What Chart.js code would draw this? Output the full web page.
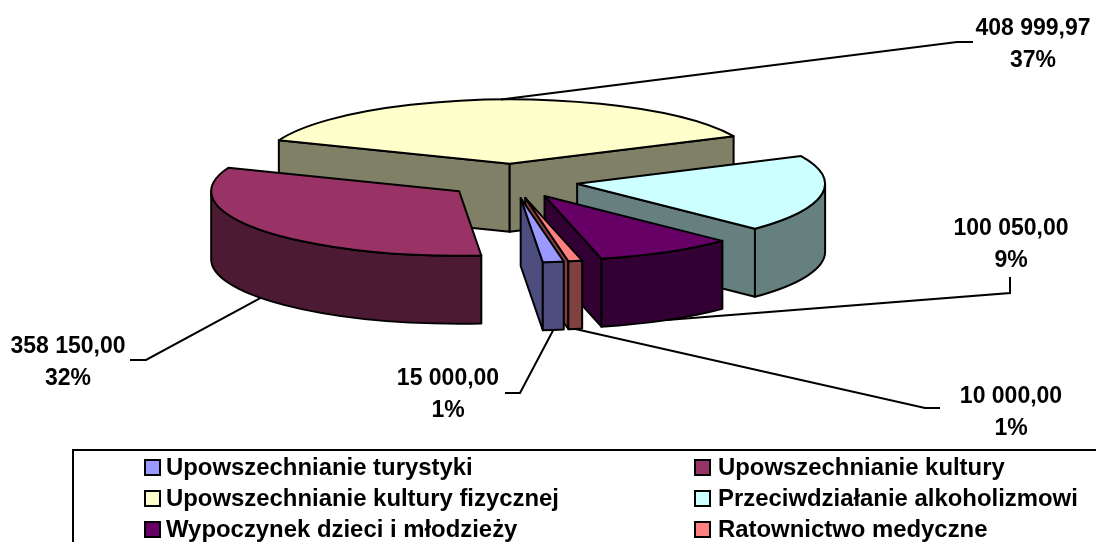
<!DOCTYPE html>
<html lang="pl">
<head>
<meta charset="utf-8">
<title>Wydatki</title>
<script src="https://cdn.jsdelivr.net/npm/chart.js@4"></script>
<style>
  html, body { margin: 0; padding: 0; background: #fff; overflow: hidden; }
  canvas { display: block; }
</style>
</head>
<body>
<canvas id="pieChart" width="1096" height="542"></canvas>
<script>
// data (the alkoholizm slice has no label, value estimated from its angle)
const categories = [
  "Upowszechnianie turystyki",
  "Upowszechnianie kultury",
  "Upowszechnianie kultury fizycznej",
  "Przeciwdziałanie alkoholizmowi",
  "Wypoczynek dzieci i młodzieży",
  "Ratownictwo medyczne"
];
const values = [15000, 358150, 408999.97, 214000, 100050, 10000];
const topColors = ["#9999ff", "#993366", "#ffffcc", "#ccffff", "#660066", "#ff8080"];
const wallColors = ["#4d4d80", "#4d1a33", "#808066", "#668080", "#330033", "#804040"];

// leader line bend and label position per slice, null = no label
const callouts = [
  { line: [[520, 393], [505, 393]], text: [448, 379] },
  { line: [[146, 360], [130, 360]], text: [68, 347] },
  { line: [[957, 42], [973, 42]], text: [1033, 29] },
  null,
  { line: [[1010, 293], [1010, 277]], text: [1011, 229] },
  { line: [[925, 408], [940, 408]], text: [1011, 397] }
];

const SQUASH = 0.26;  // pie tilt
const DEPTH = 68;
const EXPLODE = 66;
const FONT = '"Liberation Sans", Arial, sans-serif';

const total = values.reduce((a, b) => a + b, 0);

function fmtValue(v) {
  const [whole, dec] = v.toFixed(2).split(".");
  return whole.replace(/\B(?=(\d{3})+$)/g, " ") + "," + dec;
}

// arc geometry after explosion, as the library laid it out
function geom(arc) {
  const p = arc.getProps(["x", "y", "startAngle", "endAngle", "outerRadius"]);
  const mid = (p.startAngle + p.endAngle) / 2;
  return {
    cx: p.x + Math.cos(mid) * EXPLODE,
    cy: p.y + Math.sin(mid) * EXPLODE * SQUASH,
    r: p.outerRadius,
    a1: p.startAngle,
    a2: p.endAngle,
    mid
  };
}

function pointAt(g, a, drop) {
  return [g.cx + Math.cos(a) * g.r, g.cy + Math.sin(a) * g.r * SQUASH + drop];
}

function fillStroke(ctx, fill) {
  ctx.fillStyle = fill;
  ctx.fill();
  ctx.stroke();
}

function drawCutFace(ctx, g, a, fill) {
  const o = pointAt(g, a, 0);
  ctx.beginPath();
  ctx.moveTo(g.cx, g.cy);
  ctx.lineTo(o[0], o[1]);
  ctx.lineTo(o[0], o[1] + DEPTH);
  ctx.lineTo(g.cx, g.cy + DEPTH);
  ctx.closePath();
  fillStroke(ctx, fill);
}

function drawOuterWall(ctx, g, fill) {
  // only the part of the rim facing the viewer
  for (let turn = -1; turn <= 1; turn++) {
    const from = Math.max(g.a1, turn * 2 * Math.PI);
    const to = Math.min(g.a2, turn * 2 * Math.PI + Math.PI);
    if (to <= from) continue;
    const ry = g.r * SQUASH;
    ctx.beginPath();
    ctx.ellipse(g.cx, g.cy, g.r, ry, 0, from, to);
    ctx.ellipse(g.cx, g.cy + DEPTH, g.r, ry, 0, to, from, true);
    ctx.closePath();
    fillStroke(ctx, fill);
  }
}

const pie3d = {
  id: "pie3d",
  beforeDatasetsDraw(chart) {
    const ctx = chart.ctx;
    const arcs = chart.getDatasetMeta(0).data;
    const order = arcs.map((_, i) => i).sort((a, b) =>
      Math.sin(geom(arcs[a]).mid) - Math.sin(geom(arcs[b]).mid));

    ctx.save();
    ctx.lineWidth = 2;
    ctx.lineJoin = "round";
    ctx.strokeStyle = "#000";
    order.forEach(i => {
      const arc = arcs[i];
      const g = geom(arc);
      if (-Math.cos(g.a1) > 0) drawCutFace(ctx, g, g.a1, wallColors[i]);
      if (Math.cos(g.a2) > 0) drawCutFace(ctx, g, g.a2, wallColors[i]);
      drawOuterWall(ctx, g, wallColors[i]);

      // top face: moved out and flattened
      ctx.save();
      ctx.translate(g.cx, g.cy);
      ctx.scale(1, SQUASH);
      ctx.translate(-arc.x, -arc.y);
      arc.draw(ctx);
      ctx.restore();

      ctx.beginPath();
      ctx.moveTo(g.cx, g.cy);
      ctx.ellipse(g.cx, g.cy, g.r, g.r * SQUASH, 0, g.a1, g.a2);
      ctx.closePath();
      ctx.stroke();
    });
    ctx.restore();
    return false;
  },
  afterDraw(chart) {
    const ctx = chart.ctx;
    const arcs = chart.getDatasetMeta(0).data;
    ctx.save();
    ctx.strokeStyle = "#000";
    ctx.fillStyle = "#000";
    ctx.lineWidth = 2;

    // callouts
    ctx.font = "bold 23px " + FONT;
    ctx.textAlign = "center";
    ctx.textBaseline = "middle";
    callouts.forEach((c, i) => {
      if (!c) return;
      const g = geom(arcs[i]);
      const sx = g.cx + Math.cos(g.mid) * g.r;
      const sy = g.cy + Math.sin(g.mid) * g.r * SQUASH + (Math.sin(g.mid) > 0 ? DEPTH : 0);
      ctx.beginPath();
      ctx.moveTo(sx, sy);
      c.line.forEach(p => ctx.lineTo(p[0], p[1]));
      ctx.stroke();
      ctx.fillText(fmtValue(values[i]), c.text[0], c.text[1]);
      ctx.fillText(Math.round(values[i] / total * 100) + "%", c.text[0], c.text[1] + 32);
    });

    // legend box, runs off the right and bottom edge of the picture
    ctx.strokeRect(73, 450, 1040, 110);
    ctx.font = "bold 23.9px " + FONT;
    ctx.textAlign = "left";
    categories.forEach((name, i) => {
      const col = i % 2, row = Math.floor(i / 2);
      const x = col ? 695 : 145;
      const y = 467 + row * 31;
      ctx.fillStyle = topColors[i];
      ctx.fillRect(x, y - 7, 15, 15);
      ctx.strokeRect(x, y - 7, 15, 15);
      ctx.fillStyle = "#000";
      ctx.fillText(name, col ? 718 : 166, y + 1);
    });
    ctx.restore();
  }
};

new Chart(document.getElementById("pieChart"), {
  type: "pie",
  data: {
    labels: categories,
    datasets: [{
      data: values,
      backgroundColor: topColors,
      borderWidth: 0
    }]
  },
  options: {
    responsive: false,
    animation: false,
    events: [],
    rotation: 170,
    radius: 248,
    layout: { padding: { right: 72, bottom: 180 } },
    plugins: { legend: { display: false }, tooltip: { enabled: false } }
  },
  plugins: [pie3d]
});
</script>
</body>
</html>
